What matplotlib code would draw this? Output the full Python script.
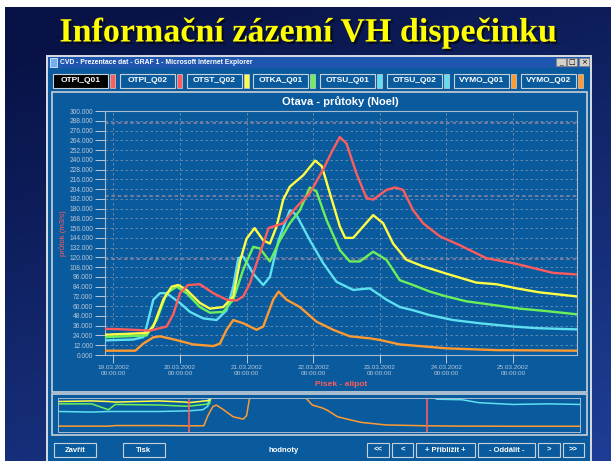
import numpy as np
import matplotlib.pyplot as plt
import matplotlib.patheffects as pe
from matplotlib.patches import Rectangle

W, H = 611, 461

# --- data (days since 19.03.2002 00:00, flow m3/s) ---
t_otpi = [-0.12, 0.0, 0.3, 0.55, 0.8, 0.9, 1.0, 1.12, 1.3, 1.5, 1.7, 1.85, 1.95, 2.05, 2.2, 2.33, 2.55, 2.75,
          2.95, 3.15, 3.28, 3.4, 3.5, 3.65, 3.8, 3.9, 4.1, 4.23, 4.35, 4.5, 4.65, 4.9, 5.2, 5.6, 6.0, 6.3, 6.6, 6.96]
q_otpi = [32, 32, 31, 30, 35, 50, 76, 86, 87, 76, 68, 67, 72, 88, 125, 156, 162, 182,
          199, 228, 250, 268, 260, 223, 193, 191, 203, 206, 203, 178, 162, 146, 135, 119, 113, 107, 101, 99]

t_otst = [-0.12, 0.2, 0.5, 0.6, 0.75, 0.875, 0.975, 1.1, 1.3, 1.45, 1.65, 1.8, 1.9, 2.0, 2.12, 2.25, 2.35, 2.45,
          2.55, 2.65, 2.85, 3.03, 3.13, 3.25, 3.4, 3.48, 3.6, 3.75, 3.9, 4.05, 4.2, 4.4, 4.65, 5.0, 5.45, 5.75,
          6.05, 6.4, 6.96]
q_otst = [25, 26, 27, 35, 68, 84, 86, 80, 64, 57, 59, 72, 115, 143, 156, 141, 137, 158,
          191, 207, 221, 239, 232, 199, 158, 144, 144, 158, 172, 162, 137, 117, 109, 100, 89, 87,
          82, 77, 72]

t_otka = [-0.12, 0.5, 0.65, 0.8, 0.95, 1.1, 1.3, 1.45, 1.65, 1.8, 1.95, 2.1, 2.2, 2.35, 2.5, 2.65, 2.8, 2.95,
          3.05, 3.2, 3.4, 3.55, 3.7, 3.9, 4.1, 4.3, 4.5, 4.75, 5.0, 5.3, 5.75, 6.1, 6.5, 6.96]
q_otka = [22, 24, 43, 76, 84, 76, 59, 52, 53, 68, 105, 133, 131, 115, 141, 162, 178, 206,
          201, 166, 129, 115, 115, 127, 117, 92, 86, 78, 72, 66, 61, 57, 54, 50]

t_otsu = [-0.12, 0.3, 0.45, 0.5, 0.6, 0.7, 0.8, 1.0, 1.15, 1.35, 1.55, 1.7, 1.8, 1.875, 1.95, 2.1, 2.25, 2.35,
          2.48, 2.65, 2.75, 2.95, 3.15, 3.35, 3.6, 3.85, 4.1, 4.3, 4.5, 4.75, 5.1, 5.5, 6.0, 6.35, 6.96]
q_otsu = [18, 19, 22, 35, 68, 76, 76, 64, 53, 45, 43, 55, 84, 119, 121, 100, 86, 96,
          141, 178, 172, 141, 113, 90, 80, 82, 68, 59, 55, 49, 43, 39, 35, 33, 31.5]

t_vymo = [-0.12, 0.33, 0.45, 0.6, 0.7, 0.9, 1.2, 1.5, 1.6, 1.7, 1.8, 1.95, 2.15, 2.25, 2.4, 2.48, 2.6, 2.8,
          3.05, 3.3, 3.55, 3.85, 4.0, 4.3, 4.4, 5.0, 5.75, 6.96]
q_vymo = [5.3, 5.3, 14, 21.7, 23, 19.3, 13, 11, 14, 31, 43, 39, 31, 35, 68, 78, 68, 59,
          41, 31, 23, 20.5, 18.5, 13, 12.3, 8.2, 6, 5.3]

# overview panel: days before / after the main window
t_pre = [-4.0, -3.0, -2.5, -2.3, -1.0, -0.2]
q_pre_otpi = [33, 33, 32, 33, 32, 32]
q_pre_otst = [26, 26.5, 26, 25.5, 26.5, 25.5]
q_pre_otka = [24, 24, 19, 23.5, 23, 22]
q_pre_otsu = [17.5, 17, 17.5, 17.5, 17.5, 18]
q_pre_vymo = [5, 5, 5, 5.5, 5.5, 5.3]
t_post = [7.25, 8.0, 8.5, 9.5, 10.6, 11.5]
q_post_otpi = [97, 94, 92, 90, 88, 86]
q_post_otst = [70, 68, 66, 64, 62, 60]
q_post_otka = [49, 47, 45, 44, 43, 42]
q_post_otsu = [28, 27.5, 25, 23.5, 24, 23.5]
q_post_vymo = [5.2, 5, 5, 4.9, 4.9, 4.9]

limits = [285, 195, 118]
day_labels = ['19.03.2002', '20.03.2002', '21.03.2002', '22.03.2002', '23.03.2002', '24.03.2002', '25.03.2002']
buttons = ['OTPI_Q01', 'OTPI_Q02', 'OTST_Q02', 'OTKA_Q01', 'OTSU_Q01', 'OTSU_Q02', 'VYMO_Q01', 'VYMO_Q02']

c_red, c_yel, c_grn, c_cyan, c_org = '#ff5c5c', '#ffff44', '#6cf05a', '#5ee0f0', '#ff9a30'
btn_colors = [c_red, c_red, c_yel, c_grn, c_cyan, c_cyan, c_org, c_org]
body = '#0a5a9e'
FONT = 'Liberation Sans'


def px_axes(x0, y0, x1, y1):
    return fig.add_axes([x0 / W, 1 - y1 / H, (x1 - x0) / W, (y1 - y0) / H])


def box(x0, y0, x1, y1, fc, ec='none', lw=1.0, z=1):
    bg.add_patch(Rectangle((x0, y0), x1 - x0, y1 - y0, facecolor=fc, edgecolor=ec, lw=lw, zorder=z))


fig = plt.figure(figsize=(W / 100, H / 100), dpi=100)
bg = fig.add_axes([0, 0, 1, 1])
bg.set_xlim(0, W)
bg.set_ylim(H, 0)
bg.axis('off')

# slide background gradient
yy, xx = np.mgrid[0:H, 0:W]
f = np.clip(0.75 * yy / H + 0.35 * xx / W - 0.1, 0, 1)
top = np.array([8, 18, 70]) / 255
bot = np.array([30, 62, 150]) / 255
img = top + f[..., None] * (bot - top)
bg.imshow(img, extent=[0, W, H, 0], aspect='auto', zorder=0)
box(0, 0, W, 7, 'white', z=0.5)
box(0, 0, 5, H, 'white', z=0.5)

# slide title (with drop shadow)
bg.text(308, 33, 'Informační zázemí VH dispečinku', color='#ffff00', fontsize=24.5, fontweight='bold',
        family='Liberation Serif', ha='center', va='center', zorder=3,
        path_effects=[pe.SimplePatchShadow(offset=(1.6, -1.6), shadow_rgbFace='#05081a', alpha=0.9),
                      pe.Normal()])

# window frame
box(46, 55, 592, 463, '#d4d8e0', z=1)
box(48, 57, 590, 463, body, z=1.1)
box(48, 57, 590, 68, '#1f57b0', z=1.2)
box(50, 58, 57, 67, '#6fb0f0', ec='white', lw=0.5, z=1.3)
bg.text(60, 62.5, 'CVD - Prezentace dat - GRAF 1 - Microsoft Internet Explorer', color='white',
        fontsize=4.9, fontweight='bold', family=FONT, va='center', zorder=2)
for x0, g in zip([556, 567, 579], ['_', '□', '×']):
    box(x0, 58.5, x0 + 10, 66.5, '#d4d0c8', ec='#808080', lw=0.5, z=1.3)
    bg.text(x0 + 5, 62.5, g, fontsize=5, color='black', ha='center', va='center', family='DejaVu Sans', zorder=2)

# series buttons
for i, (name, col) in enumerate(zip(buttons, btn_colors)):
    x0 = 53 + i * 66.8
    fc = 'black' if i == 0 else body
    box(x0, 74, x0 + 55, 88, fc, ec='#c8d0d8', lw=0.8, z=1.3)
    box(x0 + 57, 74, x0 + 62, 88, col, ec='#c8d0d8', lw=0.5, z=1.3)
    bg.text(x0 + 27.5, 81, name, color='white', fontsize=6, fontweight='bold', family=FONT,
            ha='center', va='center', zorder=2)

# chart panel frames
box(52, 92, 587, 392, body, ec='#c8d0d8', lw=1.2, z=1.3)
box(52, 394, 587, 435, body, ec='#c8d0d8', lw=1.2, z=1.3)

bg.text(340, 102, 'Otava - průtoky (Noel)', color='white', fontsize=8, fontweight='bold', family=FONT,
        ha='center', va='center', zorder=2)
bg.text(63, 233, 'průtok (m3/s)', color=c_red, fontsize=5.6, family=FONT, rotation=90,
        ha='center', va='center', zorder=2)
bg.text(341, 384, 'Písek - alipot', color=c_red, fontsize=6, fontweight='bold', family=FONT,
        ha='center', va='center', zorder=2)

# bottom buttons
for x0, x1, lab in [(54, 96, 'Zavřít'), (123, 165, 'Tisk'), (367, 389, '<<'), (392, 413, '<'),
                    (416, 475, '+ Přiblížit +'), (478, 535, '- Oddálit -'), (538, 560, '>'), (563, 584, '>>')]:
    box(x0, 443, x1, 457, body, ec='#c8d0d8', lw=0.8, z=1.3)
    bg.text((x0 + x1) / 2, 450, lab, color='white', fontsize=5.5, fontweight='bold', family=FONT,
            ha='center', va='center', zorder=2)
bg.text(284, 450, 'hodnoty', color='white', fontsize=5.5, fontweight='bold', family=FONT,
        ha='center', va='center', zorder=2)

# main plot
ax = px_axes(105, 111, 577, 355)
ax.set_facecolor(body)
ax.set_xlim(-0.125, 6.96)
ax.set_ylim(0, 300)
yt = np.arange(0, 301, 12)
ax.set_yticks(yt)
ax.set_yticklabels(['%.3f' % v for v in yt], fontsize=4.8, family=FONT, color='white')
ax.set_xticks(range(7))
ax.set_xticklabels([d + '\n00:00:00' for d in day_labels], fontsize=4.6, family=FONT, color='white',
                   linespacing=1.1)
ax.tick_params(colors='#b8c8d8', length=6, width=0.7, pad=1.5)
ax.tick_params(axis='y', length=7)
for s in ax.spines.values():
    s.set_color('#a8bcd0')
    s.set_linewidth(0.8)
ax.grid(True, color='#8c9cb4', lw=0.6, ls=(0, (3, 3)), alpha=0.8)
for v in limits:
    ax.axhline(v, color='#a4889e', lw=1.3, ls=(0, (2, 1.5)), alpha=0.75, zorder=1.5)
ax.plot(t_vymo, q_vymo, color=c_org, lw=1.7, zorder=3)
ax.plot(t_otsu, q_otsu, color=c_cyan, lw=1.7, zorder=3)
ax.plot(t_otka, q_otka, color=c_grn, lw=1.7, zorder=3)
ax.plot(t_otst, q_otst, color=c_yel, lw=1.7, zorder=3)
ax.plot(t_otpi, q_otpi, color=c_red, lw=1.7, zorder=4)

# overview plot
ov = px_axes(58, 398, 580, 432)
ov.set_facecolor(body)
ov.set_xlim(-4.0, 11.5)
ov.set_ylim(0, 29)
ov.set_xticks([])
ov.set_yticks([])
for s in ov.spines.values():
    s.set_color('#a8bcd0')
    s.set_linewidth(0.7)
series = [(q_pre_vymo, t_vymo, q_vymo, q_post_vymo, c_org),
          (q_pre_otsu, t_otsu, q_otsu, q_post_otsu, c_cyan),
          (q_pre_otka, t_otka, q_otka, q_post_otka, c_grn),
          (q_pre_otst, t_otst, q_otst, q_post_otst, c_yel),
          (q_pre_otpi, t_otpi, q_otpi, q_post_otpi, c_red)]
for qpre, t, q, qpost, col in series:
    ov.plot(np.concatenate([t_pre, t, t_post]), np.concatenate([qpre, q, qpost]), color=col, lw=1.1)
ov.axvline(-0.12, color=c_red, lw=1.2)
ov.axvline(6.96, color=c_red, lw=1.2)

fig.savefig('out.png', dpi=100)
